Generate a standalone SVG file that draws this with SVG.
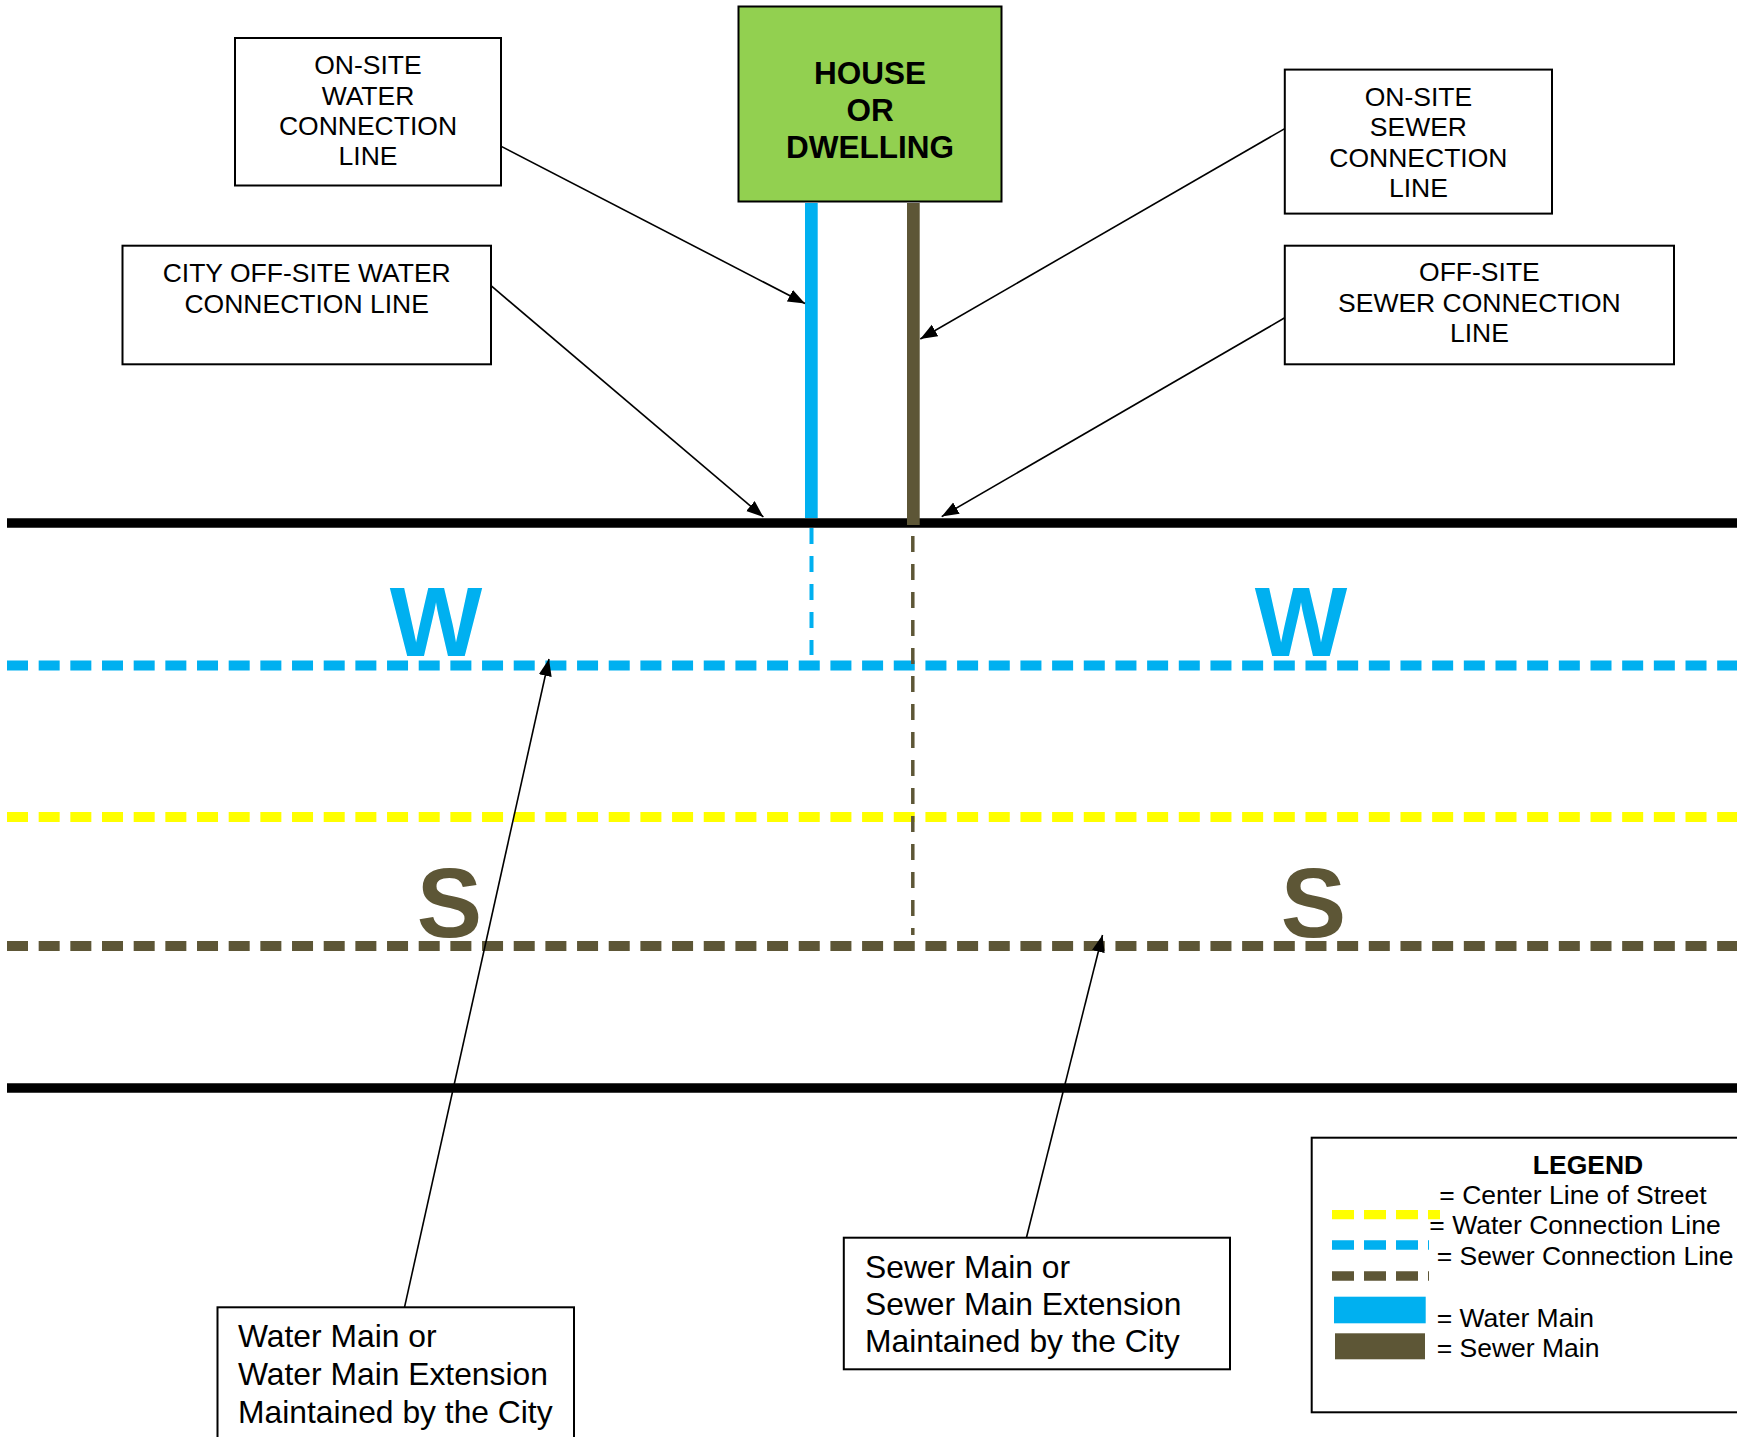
<svg xmlns="http://www.w3.org/2000/svg" width="1737" height="1437" viewBox="0 0 1737 1437">
<defs>
<style>
text{font-family:"Liberation Sans",Arial,sans-serif;fill:#000}
.lbl{font-size:26.5px;text-anchor:middle}
.big{font-size:31.8px}
.leg{font-size:26.5px}
.box{fill:#fff;stroke:#000;stroke-width:2}
.street{stroke:#000;stroke-width:9.5}
.main{stroke-width:10;stroke-dasharray:21 10.67;fill:none}
.arrow{stroke:#000;stroke-width:1.6;fill:none;marker-end:url(#ah)}
.letter{font-size:98px;font-weight:bold;text-anchor:middle}
</style>
<marker id="ah" markerUnits="userSpaceOnUse" markerWidth="18" markerHeight="14" refX="17" refY="6.5" orient="auto">
<path d="M0,0 L17,6.5 L0,13 Z" fill="#000"/>
</marker>
</defs>
<rect x="0" y="0" width="1737" height="1437" fill="#fff"/>

<g id="street">
<line class="street" x1="7" y1="523" x2="1737" y2="523"/>
<line class="street" x1="7" y1="1088" x2="1737" y2="1088"/>
<line class="main" stroke="#00B0F0" x1="7" y1="665.5" x2="1737" y2="665.5"/>
<line class="main" stroke="#FFFF00" x1="7" y1="817" x2="1737" y2="817"/>
<line class="main" stroke="#5D5636" x1="7" y1="946" x2="1737" y2="946"/>
<line stroke="#00B0F0" stroke-width="4" stroke-dasharray="16 12" x1="811.5" y1="528" x2="811.5" y2="655"/>
<line stroke="#5D5636" stroke-width="3.5" stroke-dasharray="16 12" x1="912.8" y1="536" x2="912.8" y2="935"/>
<rect x="805" y="203" width="12.7" height="315" fill="#00B0F0"/>
<rect x="907" y="203" width="12.7" height="322" fill="#5D5636"/>
<text class="letter" x="436" y="656" style="fill:#00B0F0">W</text>
<text class="letter" x="1301" y="656" style="fill:#00B0F0">W</text>
<text class="letter" x="449.5" y="937" style="fill:#5D5636">S</text>
<text class="letter" x="1313.5" y="937" style="fill:#5D5636">S</text>
</g>

<g id="house">
<rect x="738.5" y="6.5" width="263" height="195" fill="#92D050" stroke="#000" stroke-width="2"/>
<text x="870" y="84" font-size="31.5" font-weight="bold" text-anchor="middle">HOUSE</text>
<text x="870" y="120.7" font-size="31.5" font-weight="bold" text-anchor="middle">OR</text>
<text x="870" y="158" font-size="31.5" font-weight="bold" text-anchor="middle">DWELLING</text>
</g>

<g id="onsite-water">
<rect class="box" x="235" y="38" width="266" height="147.5"/>
<text class="lbl" x="368" y="74.3">ON-SITE</text>
<text class="lbl" x="368" y="104.5">WATER</text>
<text class="lbl" x="368" y="134.7">CONNECTION</text>
<text class="lbl" x="368" y="165">LINE</text>
</g>

<g id="offsite-water">
<rect class="box" x="122.5" y="245.7" width="368.5" height="118.6"/>
<text class="lbl" x="306.7" y="282">CITY OFF-SITE WATER</text>
<text class="lbl" x="306.7" y="312.5">CONNECTION LINE</text>
</g>

<g id="onsite-sewer">
<rect class="box" x="1284.8" y="69.6" width="267.2" height="144"/>
<text class="lbl" x="1418.4" y="106">ON-SITE</text>
<text class="lbl" x="1418.4" y="136">SEWER</text>
<text class="lbl" x="1418.4" y="166.5">CONNECTION</text>
<text class="lbl" x="1418.4" y="197">LINE</text>
</g>

<g id="offsite-sewer">
<rect class="box" x="1284.8" y="245.7" width="389.2" height="118.6"/>
<text class="lbl" x="1479.4" y="281.4">OFF-SITE</text>
<text class="lbl" x="1479.4" y="311.8">SEWER CONNECTION</text>
<text class="lbl" x="1479.4" y="342">LINE</text>
</g>

<g id="water-main">
<rect class="box" x="217.5" y="1307.3" width="356.5" height="145"/>
<text class="big" x="238" y="1347.3">Water Main or</text>
<text class="big" x="238" y="1385">Water Main Extension</text>
<text class="big" x="238" y="1422.5">Maintained by the City</text>
</g>

<g id="sewer-main">
<rect class="box" x="843.8" y="1237.7" width="386.2" height="131.6"/>
<text class="big" x="865" y="1277.7">Sewer Main or</text>
<text class="big" x="865" y="1314.5">Sewer Main Extension</text>
<text class="big" x="865" y="1351.7">Maintained by the City</text>
</g>

<g id="legend">
<rect class="box" x="1311.7" y="1137.7" width="440" height="274.6"/>
<text x="1588" y="1174" font-size="26.5" font-weight="bold" text-anchor="middle">LEGEND</text>
<line stroke="#FFFF00" stroke-width="9.3" stroke-dasharray="22 10" x1="1332" y1="1214.7" x2="1440" y2="1214.7"/>
<line stroke="#00B0F0" stroke-width="9.7" stroke-dasharray="22 10" x1="1332" y1="1245" x2="1429" y2="1245"/>
<line stroke="#5D5636" stroke-width="9.7" stroke-dasharray="22 10" x1="1332" y1="1276" x2="1429" y2="1276"/>
<rect x="1334" y="1296.7" width="91.7" height="26.6" fill="#00B0F0"/>
<rect x="1335" y="1333.3" width="90" height="26" fill="#5D5636"/>
<text class="leg" x="1439.3" y="1204">= Center Line of Street</text>
<text class="leg" x="1429.3" y="1234.3">= Water Connection Line</text>
<text class="leg" x="1436.7" y="1265">= Sewer Connection Line</text>
<text class="leg" x="1436.7" y="1326.7">= Water Main</text>
<text class="leg" x="1436.7" y="1357.3">= Sewer Main</text>
</g>

<g id="connectors">
<line class="arrow" x1="501.3" y1="146.4" x2="805" y2="303.5"/>
<line class="arrow" x1="491" y1="285.7" x2="763.4" y2="517"/>
<line class="arrow" x1="1284.8" y1="128.6" x2="920.3" y2="339"/>
<line class="arrow" x1="1284.8" y1="317.8" x2="941.7" y2="516.6"/>
<line class="arrow" x1="404.5" y1="1307.3" x2="549" y2="659"/>
<line class="arrow" x1="1026.4" y1="1237.7" x2="1102.5" y2="935"/>
</g>
</svg>
